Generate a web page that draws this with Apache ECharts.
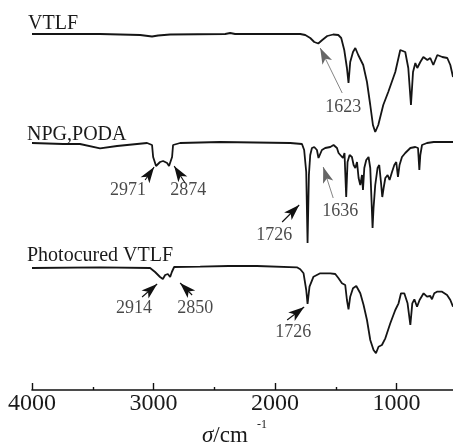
<!DOCTYPE html>
<html><head><meta charset="utf-8">
<script src="https://cdn.jsdelivr.net/npm/echarts@6/dist/echarts.min.js"></script>
<style>html,body{margin:0;padding:0;background:#fff}#c{width:453px;height:443px}</style>
</head><body><div id="c"></div>
<script>
// wavenumber (cm-1), intensity (arbitrary units, traces offset)
const vtlf = [[4000,356],[3440,356],[3110,355],[3012,353.5],[2962,354.5],[2863,355.5],[2410,356],[2369,357],[2328,356],[1792,356],[1751,355],[1710,352],[1677,348],[1644,346.5],[1611,350],[1570,354],[1521,355.5],[1479,355],[1455,352],[1430,340],[1408,322],[1395,307],[1381,328],[1358,338],[1339,342],[1315,335],[1274,325],[1243,308],[1216,285],[1194,265],[1175,258],[1150,265],[1109,285],[1068,298],[1010,318],[969,340],[928,338],[903,322],[881,285],[864,318],[845,327],[829,322],[804,328],[779,333],[746,330],[722,332],[697,325],[664,335],[623,333],[582,332],[557,325],[535,313]];
const npgPoda = [[4000,247],[3745,246],[3605,246],[3440,241.7],[3300,244],[3053,247],[3012,245],[3003,233],[2979,224],[2946,228],[2921,229],[2888,227],[2872,224],[2847,233],[2839,245],[2781,247],[2451,248],[1875,247],[1778,246],[1760,240],[1743,218],[1732,147],[1721,215],[1710,235],[1696,242],[1677,243],[1655,240],[1642,232],[1628,233],[1614,240],[1587,242],[1545,243],[1518,245],[1490,242],[1477,237],[1463,238],[1441,232],[1428,237],[1414,193],[1403,228],[1386,235],[1367,233],[1353,225],[1339,222],[1325,228],[1312,212],[1298,205],[1284,215],[1276,200],[1265,222],[1249,230],[1230,233],[1216,222],[1205,188],[1197,162],[1189,182],[1175,205],[1156,222],[1142,225],[1128,208],[1117,193],[1106,202],[1092,212],[1073,215],[1057,210],[1037,218],[1018,225],[1002,228],[988,213],[975,225],[955,233],[928,237],[886,242],[845,243],[823,242],[812,220],[804,235],[790,245],[749,247],[694,248],[680,246],[667,248],[557,248],[535,248]];
const photocured = [[4000,122],[3440,122.7],[3028,122],[2987,118],[2946,113],[2923,111],[2904,115],[2882,116],[2863,113],[2849,118],[2830,123],[2616,123.3],[2383,124],[2369,126],[2355,124],[2149,124],[1820,122.7],[1792,120.7],[1765,116.7],[1743,100],[1732,86],[1716,103.3],[1683,113.3],[1628,116.7],[1545,116.7],[1504,116],[1477,111.7],[1449,106.7],[1422,105],[1408,90],[1395,80.7],[1381,93.3],[1358,101.7],[1331,104],[1298,96.7],[1271,85],[1243,70],[1216,50],[1189,40],[1169,36.7],[1148,43.3],[1120,45],[1092,51.7],[1051,66.7],[1010,80],[983,86.7],[963,96.7],[936,96.7],[909,86.7],[886,65],[870,86.7],[853,90.7],[831,83.3],[810,90],[777,96.7],[749,93.3],[722,94],[708,90.7],[689,96.7],[667,98.3],[625,98.3],[584,95],[557,90],[535,83.3]];
const seriesNames = ['VTLF', 'NPG,PODA', 'Photocured VTLF'];
const tickLabels = [1000, 2000, 3000, 4000];
const minorTicks = [1500, 2500, 3500];
// peak annotations: label position, arrow tail, arrow tip, style
const peakLabels = [[1438,283,'1623'],[3209,200,'2971'],[2715,200,'2874'],[2007,155,'1726'],[1463,179,'1636'],[3160,82,'2914'],[2657,82,'2850'],[1850,58,'1726']];
const peakArrows = [
  [[1447,297],[1628,342],'thin'],
  [[3069,210],[2995,223],'bold'],
  [[2740,207],[2830,224],'bold'],
  [[1941,168],[1801,185],'bold'],
  [[1521,192],[1603,223],'thin'],
  [[3094,93],[2970,106],'bold'],
  [[2682,95],[2781,107],'bold'],
  [[1900,70],[1760,83],'bold']
];

const serif = '"Liberation Serif","DejaVu Serif",serif';
const chart = echarts.init(document.getElementById('c'));
const lineSeries = [vtlf, npgPoda, photocured].map((d, i) => ({
  name: seriesNames[i], type: 'line', data: d, showSymbol: false, symbol: 'none',
  lineStyle: {color: '#151515', width: 1.8}, silent: true, z: 3
}));
const axisBase = {type: 'value', inverse: true, min: 535, max: 4000, position: 'bottom', offset: 0, splitLine: {show: false}};
chart.setOption({
  animation: false,
  grid: {left: 32, top: 0, right: 0, height: 390},
  xAxis: [Object.assign({}, axisBase, {
    axisLine: {lineStyle: {color: '#111', width: 1.6}},
    axisTick: {inside: true, length: 7, customValues: tickLabels, lineStyle: {color: '#111', width: 1.4}},
    axisLabel: {fontFamily: serif, fontSize: 24, color: '#1a1a1a', margin: 2, customValues: tickLabels,
      formatter: v => String(v)}
  }), Object.assign({}, axisBase, {
    axisLine: {show: false},
    axisTick: {inside: true, length: 3, customValues: minorTicks, lineStyle: {color: '#111', width: 1.4}},
    axisLabel: {show: false}
  })],
  yAxis: {type: 'value', min: 0, max: 390, show: false},
  series: lineSeries.concat([{
    type: 'scatter', symbolSize: 0, silent: true, z: 4,
    data: peakLabels,
    label: {show: true, position: 'inside', formatter: p => p.value[2],
      fontFamily: serif, fontSize: 18, color: '#1a1a1a'},
    markLine: {
      silent: true, symbol: ['none', 'arrow'], precision: 3,
      label: {show: false},
      data: peakArrows.map(a => [
        {coord: a[0], symbolSize: a[2] === 'bold' ? 6 : 5,
         lineStyle: a[2] === 'bold' ? {color: '#111', width: 1.1, type: 'solid'} : {color: '#666', width: 0.8, type: 'solid'}},
        {coord: a[1]}
      ])
    }
  }]),
  graphic: [
    {type: 'text', left: 28, top: 14, style: {text: seriesNames[0], font: '20px ' + serif, fill: '#1a1a1a'}},
    {type: 'text', left: 27, top: 125, style: {text: seriesNames[1], font: '20px ' + serif, fill: '#1a1a1a'}},
    {type: 'text', left: 27, top: 246, style: {text: seriesNames[2], font: '20px ' + serif, fill: '#1a1a1a'}},
    {type: 'text', left: 202, top: 424, style: {
      text: '{i|σ}/cm', font: '23px ' + serif, fill: '#1a1a1a',
      rich: {i: {fontStyle: 'italic', fontFamily: serif, fontSize: 23, fill: '#1a1a1a'}}}},
    {type: 'text', left: 257, top: 419, style: {text: '-1', font: '12px ' + serif, fill: '#1a1a1a'}}
  ]
});
</script></body></html>
